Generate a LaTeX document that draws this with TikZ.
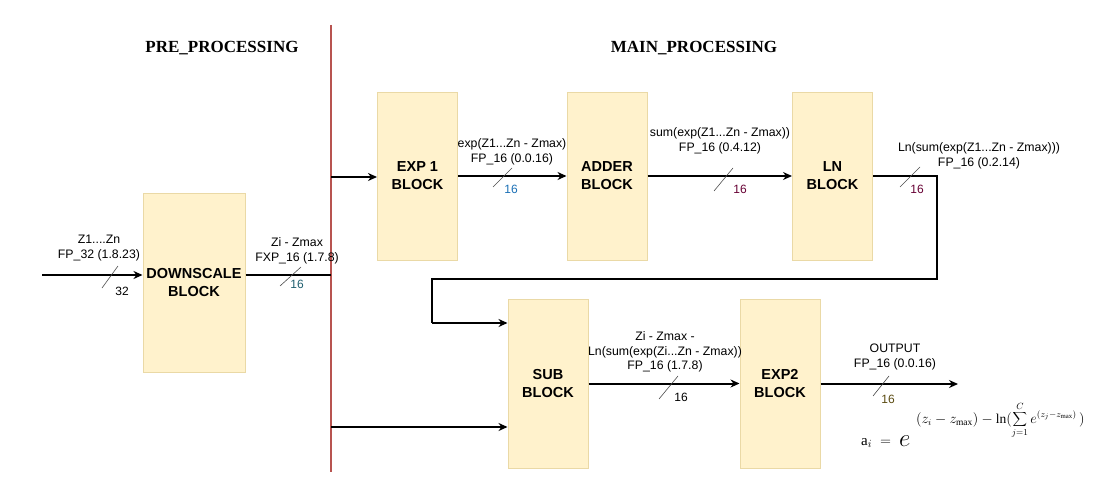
\documentclass[tikz,border=0pt]{standalone}
\usepackage{fontspec}
\setmainfont{Liberation Serif}
\newfontfamily\arialf{Liberation Sans}
\usetikzlibrary{arrows.meta}
\definecolor{boxfill}{HTML}{FFF2CC}
\definecolor{boxedge}{HTML}{EAD9A6}
\definecolor{redline}{HTML}{B85450}
\definecolor{cteal}{HTML}{1F5F6F}
\definecolor{cblue}{HTML}{1A6FB5}
\definecolor{cmaroon}{HTML}{660033}
\definecolor{colive}{HTML}{5A4A10}
\begin{document}
\begin{tikzpicture}[x=1pt,y=-1pt,
  blk/.style={draw=boxedge,fill=boxfill,line width=1pt,inner sep=0pt,align=center,
    minimum width=80pt,minimum height=168pt,
    font=\arialf\bfseries\fontsize{14.5}{18}\selectfont},
  arr/.style={line width=2pt,-{Stealth[length=9pt,width=8pt]}},
  wire/.style={line width=2pt},
  lbl/.style={font=\arialf\fontsize{12.3}{14.8}\selectfont,align=center,inner sep=0pt},
  num/.style={font=\arialf\fontsize{12}{14}\selectfont,inner sep=0pt},
  tick/.style={draw=black!70,line width=0.6pt},
  title/.style={font=\bfseries\fontsize{17}{20}\selectfont,inner sep=0pt}]
\useasboundingbox (0,0) rectangle (1097,495);

% titles
\node[title] (t1) at (222,48) {PRE\_PROCESSING};
\node[title] (t2) at (694,48) {MAIN\_PROCESSING};

% red separator
\coordinate (rtop) at (331,25);
\coordinate (rbot) at (331,472);
\draw[redline,line width=2pt] (rtop) -- (rbot);
\coordinate (r1) at (331,177);
\coordinate (r2) at (331,427);
\coordinate (r0) at (331,275);

% blocks
\node[blk,minimum width=102pt,minimum height=179pt] (down) at (194,282.5) {DOWNSCALE\\BLOCK};
\node[blk] (exp1) at (417.5,176) {EXP 1\\BLOCK};
\node[blk] (adder) at (607,176) {ADDER\\BLOCK};
\node[blk] (ln) at (832.5,176) {LN\\BLOCK};
\node[blk,minimum height=169pt] (sub) at (548,383.5) {SUB\\BLOCK};
\node[blk,minimum height=169pt] (exp2) at (780,383.5) {EXP2\\BLOCK};

% input
\coordinate (in) at (42,275);
\draw[arr] (in) -- (in -| down.west);
\node[lbl] (l0) at (99,248) {Z1....Zn\\FP\_32 (1.8.23)};
\draw[tick] (102,288) -- (118,266);
\node[num] (n0) at (122,291) {32};

% downscale out
\draw[wire] (down.east |- r0) -- (r0);
\node[lbl] (l1) at (297,251) {Zi - Zmax\\FXP\_16 (1.7.8)};
\draw[tick] (280,286) -- (301,267);
\node[num,text=cteal] (n1) at (297,284.5) {16};

% red line to exp1 and sub
\draw[arr] (r1) -- (r1 -| exp1.west);
\draw[arr] (r2) -- (r2 -| sub.west);

% exp1 -> adder
\draw[arr] (exp1.east) -- (adder.west);
\node[lbl] (l2) at (512,152) {exp(Z1...Zn - Zmax)\\FP\_16 (0.0.16)};
\draw[tick] (493,187) -- (512,168);
\node[num,text=cblue] (n2) at (511,189) {16};

% adder -> ln
\draw[arr] (adder.east) -- (ln.west);
\node[lbl] (l3) at (720,141) {sum(exp(Z1...Zn - Zmax))\\FP\_16 (0.4.12)};
\draw[tick] (714,191) -- (733,168);
\node[num,text=cmaroon] (n3) at (740,189) {16};

% ln -> sub (feedback path)
\coordinate (c1) at (937,176);
\coordinate (c2) at (937,279);
\coordinate (c3) at (432,279);
\coordinate (c4) at (432,323);
\draw[wire] (ln.east) -- (c1) -- (c2) -- (c3) -- (c4);
\draw[arr] (c4) -- (c4 -| sub.west);
\node[lbl] (l4) at (979,156) {Ln(sum(exp(Z1...Zn - Zmax)))\\FP\_16 (0.2.14)};
\draw[tick] (900,187) -- (920,167);
\node[num,text=cmaroon] (n4) at (917,189) {16};

% sub -> exp2
\draw[arr] (sub.east |- exp2.west) -- (exp2.west);
\node[lbl] (l5) at (665,352) {Zi - Zmax -\\Ln(sum(exp(Zi...Zn - Zmax))\\FP\_16 (1.7.8)};
\draw[tick] (659,399) -- (678,376);
\node[num] (n5) at (681,397) {16};

% output
\coordinate (out) at (958,384);
\draw[arr] (exp2.east |- out) -- (out);
\node[lbl] (l6) at (895,357) {OUTPUT\\FP\_16 (0.0.16)};
\draw[tick] (873,396) -- (889,376);
\node[num,text=colive] (n6) at (888,399) {16};

% formula
\node[inner sep=0pt,anchor=base west] (fa) at (861,445) {\fontsize{15}{15}\selectfont $\mathrm{a}_i\;=$};
\node[inner sep=0pt,anchor=base west] (fe) at (899,446) {\fontsize{32}{32}\selectfont $e$};
\node[inner sep=0pt,anchor=west] (fx) at (916,420) {\fontsize{13.5}{13.5}\selectfont $(z_i - z_{\max})-\ln(\displaystyle\sum_{j=1}^{C} e^{(z_j - z_{\max})}\,)$};
\end{tikzpicture}
\end{document}
